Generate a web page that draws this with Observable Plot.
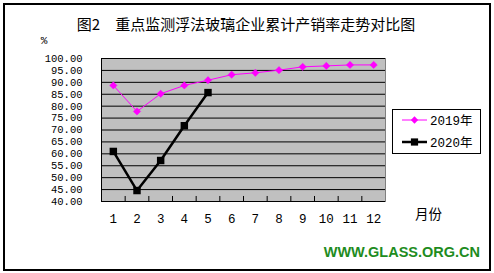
<!DOCTYPE html>
<html>
<head>
<meta charset="utf-8">
<script src="https://cdn.jsdelivr.net/npm/d3@7"></script>
<script src="https://cdn.jsdelivr.net/npm/@observablehq/plot@0.6"></script>
<style>
  html, body { margin: 0; padding: 0; background: #fff; }
  svg { display: block; }
</style>
</head>
<body>
<div id="chart"></div>
<script>
const months = [1, 2, 3, 4, 5, 6, 7, 8, 9, 10, 11, 12];
const v2019 = [88.7, 77.8, 85.2, 88.7, 90.9, 93.2, 94.0, 95.1, 96.5, 96.9, 97.3, 97.3];
const v2020 = [61.0, 44.6, 57.2, 71.8, 85.7];
const yTicks = [40, 45, 50, 55, 60, 65, 70, 75, 80, 85, 90, 95, 100];
const seriesNames = ["2019年", "2020年"];
const titleText = "图2　重点监测浮法玻璃企业累计产销率走势对比图";
const unitText = "%";
const xLabelText = "月份";
const watermark = "WWW.GLASS.ORG.CN";

const d2019 = months.map((m, i) => ({month: m, value: v2019[i]}));
const d2020 = v2020.map((v, i) => ({month: months[i], value: v}));
const bounds = months.slice(0, -1).map(m => m + 0.5);

const monoFont = "'Liberation Mono', 'Noto Sans CJK SC', monospace";

const chart = Plot.plot({
  width: 494,
  height: 273,
  marginLeft: 101,
  marginRight: 109,
  marginTop: 58,
  marginBottom: 72,
  style: {fontFamily: monoFont, fontSize: "12px", color: "#000", background: "#fff", overflow: "visible"},
  x: {domain: [0.5, 12.5], label: null},
  y: {domain: [40, 100], label: null},
  marks: [
    Plot.frame({fill: "#C0C0C0", stroke: "#808080"}),
    Plot.ruleY(yTicks.slice(1), {stroke: "#000", strokeWidth: 1}),
    Plot.ruleX([0.5], {stroke: "#000", strokeWidth: 1}),
    Plot.ruleY([40], {stroke: "#000", strokeWidth: 1}),
    Plot.ruleX(bounds, {x: d => d, y1: 40, y2: 42.1, stroke: "#000"}),
    Plot.axisY({ticks: yTicks, label: null, tickSize: 0, tickPadding: 19, tickFormat: d => d.toFixed(2), fontSize: 10.5, fontFamily: monoFont, style: {letterSpacing: "1.4px"}}),
    Plot.axisX({ticks: months, label: null, tickSize: 0, tickPadding: 13, tickFormat: d => String(d), fontSize: 12.5, fontFamily: monoFont}),
    Plot.line(d2019, {x: "month", y: "value", stroke: "#FF00FF", strokeWidth: 1}),
    Plot.dot(d2019, {x: "month", y: "value", symbol: "diamond2", r: 3.3, fill: "#FF00FF", stroke: "#FF00FF", strokeWidth: 0.5}),
    Plot.line(d2020, {x: "month", y: "value", stroke: "#000", strokeWidth: 2.5}),
    Plot.dot(d2020, {x: "month", y: "value", symbol: "square", r: 4.2, fill: "#000", stroke: "#000", strokeWidth: 0})
  ]
});

document.getElementById("chart").appendChild(chart);

const svg = d3.select(chart);
// outer border
svg.insert("rect", ":first-child")
  .attr("x", 4).attr("y", 4).attr("width", 486).attr("height", 266)
  .attr("fill", "#fff").attr("stroke", "#000").attr("stroke-width", 2);

// title
svg.append("text")
  .attr("x", 246).attr("y", 30)
  .attr("text-anchor", "middle")
  .attr("font-family", "'Noto Sans CJK SC', sans-serif")
  .attr("font-size", 15)
  .attr("fill", "#000")
  .text(titleText);

// unit
svg.append("text")
  .attr("x", 44).attr("y", 44)
  .attr("text-anchor", "middle")
  .attr("font-family", monoFont)
  .attr("font-size", 11)
  .attr("fill", "#000")
  .text(unitText);

// x axis title
svg.append("text")
  .attr("x", 415).attr("y", 219)
  .attr("text-anchor", "start")
  .attr("font-family", "'Noto Sans CJK SC', sans-serif")
  .attr("font-size", 13.5)
  .attr("fill", "#000")
  .text(xLabelText);

// watermark
svg.append("text")
  .attr("x", 480).attr("y", 257)
  .attr("text-anchor", "end")
  .attr("font-family", "'Liberation Sans', Arial, sans-serif")
  .attr("font-weight", "bold")
  .attr("font-size", 14.5)
  .attr("fill", "#1E8C1E")
  .text(watermark);

// legend
const lg = svg.append("g");
lg.append("rect")
  .attr("x", 392.5).attr("y", 109.5).attr("width", 88).attr("height", 44)
  .attr("fill", "#fff").attr("stroke", "#000").attr("stroke-width", 1);
const entries = [
  {name: seriesNames[0], y: 120, color: "#FF00FF", sw: 1, sym: d3.symbolDiamond2, size: 34},
  {name: seriesNames[1], y: 142, color: "#000", sw: 2.5, sym: d3.symbolSquare, size: 52}
];
entries.forEach(e => {
  lg.append("line")
    .attr("x1", 402).attr("x2", 427).attr("y1", e.y).attr("y2", e.y)
    .attr("stroke", e.color).attr("stroke-width", e.sw);
  lg.append("path")
    .attr("transform", `translate(414.5,${e.y})`)
    .attr("d", d3.symbol(e.sym, e.size)())
    .attr("fill", e.color);
  lg.append("text")
    .attr("x", 430).attr("y", e.y + 4.5)
    .attr("text-anchor", "start")
    .attr("font-family", monoFont)
    .attr("font-size", 12.5)
    .attr("fill", "#000")
    .text(e.name);
});
</script>
</body>
</html>
